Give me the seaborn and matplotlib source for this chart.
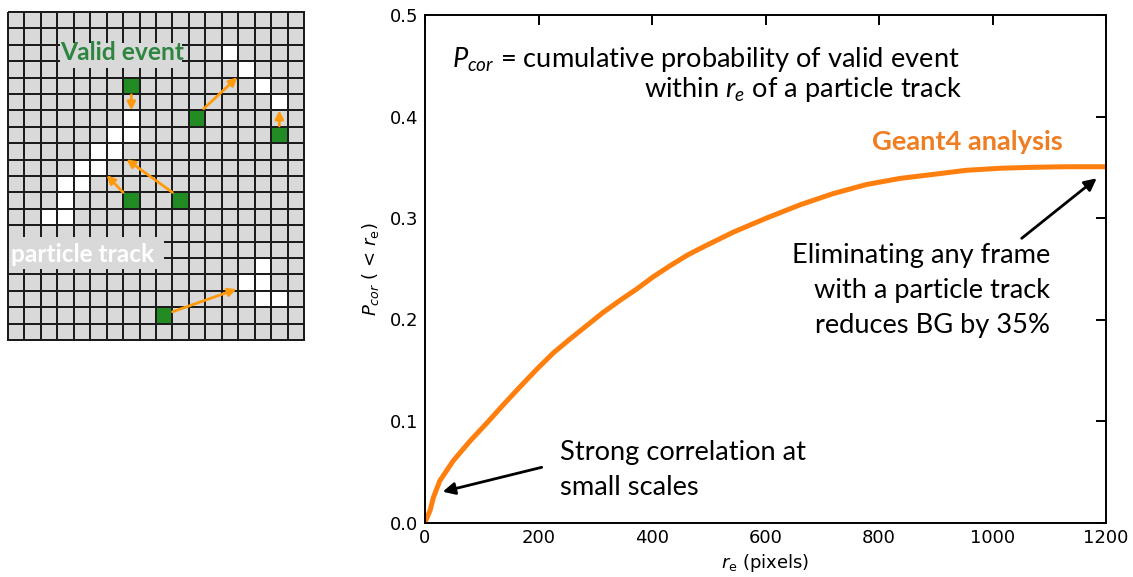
import matplotlib
matplotlib.use("Agg")
import matplotlib.pyplot as plt
import seaborn as sns
import numpy as np
import pandas as pd
from matplotlib.colors import ListedColormap
from matplotlib.patches import Rectangle

# ---------------- data ----------------
r_e = [0, 3, 9, 15, 26, 50, 79, 109, 138, 168, 197, 226, 256, 285, 314, 344,
       373, 402, 432, 461, 485, 543, 602, 661, 719, 778, 837, 896, 954, 1013,
       1072, 1131, 1200]
p_cor = [0.0, 0.004, 0.012, 0.025, 0.041, 0.061, 0.080, 0.098, 0.116, 0.134,
         0.151, 0.167, 0.181, 0.194, 0.207, 0.219, 0.230, 0.242, 0.253, 0.263,
         0.270, 0.286, 0.300, 0.313, 0.324, 0.333, 0.339, 0.343, 0.347, 0.349,
         0.350, 0.3505, 0.3505]
x_ticks = [0, 200, 400, 600, 800, 1000, 1200]
y_ticks = [0.0, 0.1, 0.2, 0.3, 0.4, 0.5]

# pixel grid diagram (column, row)
grid_cols, grid_rows = 18, 20
white_cells = [(13, 2), (14, 3), (15, 4), (16, 5), (7, 6), (7, 7), (6, 7),
               (5, 8), (6, 8), (4, 9), (5, 9), (3, 10), (4, 10), (3, 11),
               (2, 12), (3, 12), (15, 15), (14, 16), (15, 16), (15, 17), (16, 17)]
green_cells = [(7, 4), (16, 7), (11, 6), (7, 11), (10, 11), (9, 18)]
# arrows: (tail_x, tail_y, head_x, head_y) in cell units
grid_arrows = [(7.5, 5.05, 7.5, 6.0), (16.5, 6.95, 16.5, 6.0),
               (11.9, 5.9, 13.95, 3.98), (10.0, 11.0, 7.2, 8.98),
               (7.0, 11.0, 6.0, 9.95), (10.0, 18.28, 13.9, 16.9)]

# ---------------- style ----------------
sns.set_style("white")
plt.rcParams['font.family'] = ['DejaVu Sans']
plt.rcParams['text.color'] = 'black'
plt.rcParams['axes.labelcolor'] = 'black'
plt.rcParams['mathtext.fontset'] = 'custom'
plt.rcParams['mathtext.rm'] = 'Lato'
plt.rcParams['mathtext.it'] = 'Lato:italic'
plt.rcParams['mathtext.bf'] = 'Lato:bold'

W, H = 1133, 577
fig = plt.figure(figsize=(W / 100, H / 100), dpi=100)


def fp(x, y):
    return (x / W, 1 - y / H)


# ---------------- left: pixel grid ----------------
mat = np.zeros((grid_rows, grid_cols))
for c, r in white_cells:
    mat[r, c] = 1
for c, r in green_cells:
    mat[r, c] = 2
axg = fig.add_axes([8 / W, 1 - 340 / H, 296 / W, 328 / H])
sns.heatmap(mat, ax=axg, cmap=ListedColormap(['#d9d9d9', '#ffffff', '#238b23']),
            vmin=-0.5, vmax=2.5, cbar=False, linewidths=1.1, linecolor='#1c1c1c',
            xticklabels=False, yticklabels=False)
axg.collections[0].set_clip_on(False)

axg.add_patch(Rectangle((3.15, 1.9), 7.45, 1.5, facecolor='#d9d9d9',
                        edgecolor='none', zorder=5))
axg.add_patch(Rectangle((0.05, 13.7), 9.45, 2.0, facecolor='#d9d9d9',
                        edgecolor='none', zorder=5))
axg.text(6.93, 2.93, "Valid event", ha='center', va='baseline', color='#2e8540',
         fontsize=17.7, fontweight='bold', family='Lato', zorder=6)
axg.text(4.55, 15.25, "particle track", ha='center', va='baseline', color='white',
         fontsize=17.6, fontweight='bold', family='Lato', zorder=6)
for tx, ty, hx, hy in grid_arrows:
    axg.annotate("", xy=(hx, hy), xytext=(tx, ty), zorder=7,
                 arrowprops=dict(arrowstyle='-|>', color='#ff9a0a', lw=2,
                                 mutation_scale=12, shrinkA=0, shrinkB=0))

# ---------------- right: curve ----------------
ax = fig.add_axes([425 / W, 1 - 522.5 / H, 681 / W, 507.5 / H])
df = pd.DataFrame({"r_e": r_e, "p_cor": p_cor})
sns.lineplot(data=df, x="r_e", y="p_cor", ax=ax, color='#ff7f0e', linewidth=3.6)
ax.set_xlim(0, 1200)
ax.set_ylim(0, 0.5)
ax.set_xticks(x_ticks)
ax.set_yticks(y_ticks)
ax.set_yticklabels([f"{v:.1f}" for v in y_ticks])
ax.tick_params(direction='in', top=True, right=True, length=7, width=1.4,
               labelsize=13, pad=5, colors='black')
for s in ax.spines.values():
    s.set_linewidth(1.4)
    s.set_color('black')
ax.set_xlabel("$r_\\mathrm{e}$ (pixels)", fontsize=13, labelpad=3,
              math_fontfamily='dejavusans')
ax.set_ylabel("$P_{cor}$ ( < $r_\\mathrm{e}$)", fontsize=13, labelpad=6,
              math_fontfamily='dejavusans')

fs = 19.6
fig.text(*fp(452, 67), "$P_{cor}$ = cumulative probability of valid event",
         ha='left', va='baseline', fontsize=fs, family='Lato')
fig.text(*fp(962, 97), "within $r_e$ of a particle track",
         ha='right', va='baseline', fontsize=fs, family='Lato')
fig.text(*fp(1063, 150), "Geant4 analysis", ha='right', va='baseline',
         fontsize=fs, family='Lato', fontweight='bold', color='#ef7d22')
for i, line in enumerate(["Eliminating any frame", "with a particle track",
                          "reduces BG by 35%"]):
    fig.text(*fp(1050, 263 + 35 * i), line, ha='right', va='baseline',
             fontsize=fs, family='Lato')
for i, line in enumerate(["Strong correlation at", "small scales"]):
    fig.text(*fp(560, 460 + 35 * i), line, ha='left', va='baseline',
             fontsize=fs, family='Lato')

ax.annotate("", xy=(442.7, H - 491.7), xytext=(541.7, H - 467.3),
            xycoords='figure pixels', textcoords='figure pixels',
            arrowprops=dict(arrowstyle='-|>', color='black', lw=2,
                            mutation_scale=18, shrinkA=0, shrinkB=0))
ax.annotate("", xy=(1096.7, H - 178.3), xytext=(1021.7, H - 238.3),
            xycoords='figure pixels', textcoords='figure pixels',
            arrowprops=dict(arrowstyle='-|>', color='black', lw=2,
                            mutation_scale=18, shrinkA=0, shrinkB=0))

fig.savefig("out.png", dpi=100)
